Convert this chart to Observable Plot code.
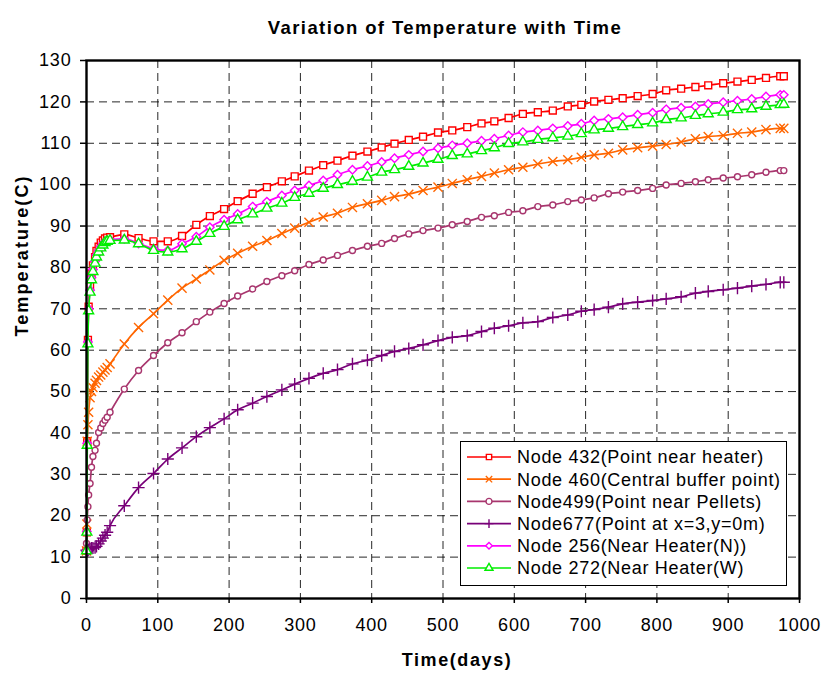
<!DOCTYPE html>
<html>
<head>
<meta charset="utf-8">
<script src="https://cdn.jsdelivr.net/npm/d3@7"></script>
<script src="https://cdn.jsdelivr.net/npm/@observablehq/plot@0.6"></script>
<style>
  html, body { margin: 0; padding: 0; background: #fff; }
  #wrap { position: relative; width: 823px; height: 678px; font-family: "Liberation Sans", Arial, sans-serif; }
  #wrap svg text { letter-spacing: 0.8px; }
  #legend { position: absolute; left: 460px; top: 441px; width: 325px; height: 143px; border: 1px solid #000; background: #fff; }
</style>
</head>
<body>
<div id="wrap"></div>
<script>
// ---- data ----
const titleText = "Variation of Temperature with Time";
const xTitle = "Time(days)";
const yTitle = "Temperature(C)";
const xTicks = [0, 100, 200, 300, 400, 500, 600, 700, 800, 900, 1000];
const yTicks = [0, 10, 20, 30, 40, 50, 60, 70, 80, 90, 100, 110, 120, 130];
const seriesNames = [
  "Node 432(Point near heater)",
  "Node 460(Central buffer point)",
  "Node499(Point near Pellets)",
  "Node677(Point at x=3,y=0m)",
  "Node 256(Near Heater(N))",
  "Node 272(Near Heater(W)"
];
const days = [0, 0.5, 1, 2, 3, 5, 7, 9, 12, 14, 17, 20, 23, 26, 29, 33,
  53, 73, 94, 114, 134, 154, 173, 193,
  212, 233, 253, 274, 292, 312, 332, 352, 373, 394, 414, 432, 452, 472, 493, 513, 534, 554, 572, 592, 612,
  633, 654, 675, 694, 712, 732, 752, 773, 794, 813, 834, 854, 872, 893, 913, 933, 953, 973, 978];
const node432 = [11.5, 16, 38, 62.5, 70.5, 75.5, 78.5, 80.5, 82.5, 84, 85, 86, 86.5, 87, 87.2, 87.3,
  88.0, 87.1, 86.3, 86.3, 87.6, 90.3, 92.4, 94.1,
  96.0, 97.8, 99.4, 100.8, 102.0, 103.4, 104.7, 105.8, 107.0, 108.0, 109.0, 109.9, 110.8, 111.6, 112.6, 113.1, 113.9, 114.8, 115.3, 116.1, 117.1,
  117.5, 117.9, 118.9, 119.3, 120.1, 120.5, 120.9, 121.4, 121.9, 122.8, 123.2, 123.6, 124.0, 124.5, 124.9, 125.3, 125.8, 126.2, 126.2];
const node460 = [11.5, 18, 38, 42, 45, 48.5, 50, 51, 52, 52.7, 53.5, 54, 54.7, 55.2, 55.8, 56.7,
  61.5, 65.5, 68.8, 72.1, 75.0, 77.2, 79.4, 81.7,
  83.4, 85.1, 86.5, 88.2, 89.5, 90.9, 92.2, 93.1, 94.5, 95.4, 96.2, 97.1, 97.7, 98.6, 99.4, 100.3, 101.2, 102.0, 102.8, 103.6, 104.2,
  105.0, 105.6, 106.0, 106.6, 107.2, 107.6, 108.4, 108.9, 109.3, 109.7, 110.3, 111.1, 111.6, 111.9, 112.4, 112.7, 113.3, 113.6, 113.6];
const node499 = [13.3, 16, 19, 22.2, 25, 27.8, 31.7, 34.3, 35.8, 37.5, 40.1, 41.2, 42.3, 43.1, 43.8, 45.0,
  50.6, 55.1, 58.7, 61.8, 64.2, 66.9, 69.2, 71.3,
  73.1, 74.8, 76.6, 78.0, 79.2, 80.7, 81.8, 82.9, 84.1, 85.1, 85.8, 87.0, 88.1, 88.9, 89.5, 90.3, 91.1, 92.1, 92.5, 93.3, 93.7,
  94.7, 95.1, 95.9, 96.3, 96.8, 97.8, 98.2, 98.6, 99.1, 99.9, 100.3, 100.7, 101.2, 101.6, 101.9, 102.4, 103.0, 103.4, 103.4];
const node677 = [11.7, 11.5, 11.5, 11.6, 11.8, 12.0, 12.2, 12.2, 12.3, 12.6, 13.2, 13.9, 14.6, 15.3, 16.0, 17.6,
  22.4, 26.8, 30.2, 33.7, 36.4, 39.1, 41.3, 43.4,
  45.6, 47.2, 48.8, 50.4, 51.8, 53.2, 54.4, 55.3, 56.7, 57.6, 58.7, 59.7, 60.4, 61.3, 62.3, 63.1, 63.5, 64.5, 65.3, 65.9, 66.6,
  66.9, 67.9, 68.5, 69.4, 69.8, 70.4, 71.2, 71.6, 72.0, 72.4, 72.9, 73.8, 74.2, 74.6, 75.0, 75.5, 75.9, 76.4, 76.4];
const node256 = [11.5, 16.2, 37.5, 62, 70, 74.5, 77.5, 79.5, 81.5, 83, 84, 85, 85.7, 86.2, 86.5, 86.7,
  86.9, 85.8, 84.5, 84.1, 85.7, 87.4, 89.7, 91.5,
  92.9, 94.7, 95.9, 97.4, 98.6, 99.8, 101.0, 102.4, 103.6, 104.5, 105.5, 106.4, 107.2, 108.0, 108.8, 109.5, 110.0, 110.6, 111.1, 111.9, 112.7,
  113.1, 113.6, 114.2, 114.7, 115.5, 115.9, 116.3, 116.9, 117.4, 118.2, 118.6, 118.9, 119.5, 119.9, 120.3, 120.7, 121.3, 121.7, 121.7];
const node272 = [11.5, 16, 37, 61.5, 69.5, 74, 77, 79, 81, 82.5, 83.7, 84.7, 85.4, 86, 86.3, 86.5,
  86.6, 85.7, 84.1, 83.7, 84.5, 86.3, 88.2, 89.9,
  91.5, 92.9, 94.3, 95.5, 96.9, 97.9, 99.1, 100.0, 100.8, 101.8, 103.0, 103.6, 104.4, 105.2, 106.1, 107.0, 107.4, 108.2, 108.9, 109.9, 110.3,
  110.9, 111.3, 111.7, 112.3, 113.2, 113.6, 114.0, 114.5, 114.9, 115.7, 116.1, 116.7, 117.1, 117.5, 118.1, 118.3, 118.9, 119.3, 119.4];

// ---- styles ----
const seriesValues = [node432, node460, node499, node677, node256, node272];
const seriesColors = ["#FF0000", "#FF6600", "#A8366E", "#780078", "#FF00FF", "#00EE00"];
const seriesSymbols = ["square", "times", "circle", "plus", "diamond2", "triangle"];
const seriesR = [3.9, 4.2, 3.0, 4.0, 3.8, 3.7];
const font = '"Liberation Sans", Arial, sans-serif';

const marks = [
  Plot.gridX({ticks: xTicks, stroke: "#000", strokeOpacity: 0.85, strokeWidth: 1, strokeDasharray: "8,5"}),
  Plot.gridY({ticks: yTicks, stroke: "#000", strokeOpacity: 0.85, strokeWidth: 1, strokeDasharray: "8,5"})
];
seriesValues.forEach((vals, k) => {
  const rows = days.map((d, i) => ({day: d, temp: vals[i]}));
  marks.push(Plot.line(rows, {x: "day", y: "temp", stroke: seriesColors[k], strokeWidth: 1.7, curve: "monotone-x"}));
  marks.push(Plot.dot(rows, {x: "day", y: "temp", symbol: seriesSymbols[k], stroke: seriesColors[k], fill: "white", r: seriesR[k], strokeWidth: 1.4}));
});
marks.push(
  Plot.frame({stroke: "#000", strokeWidth: 2.4}),
  Plot.axisX({ticks: xTicks, tickFormat: d => String(d), tickSize: 5, tickPadding: 15, fontSize: 18, label: null, strokeWidth: 1.5}),
  Plot.axisY({ticks: yTicks, tickFormat: d => String(d), tickSize: 6, tickPadding: 9, fontSize: 18, label: null, strokeWidth: 1.5}),
  Plot.text([titleText], {text: d => d, frameAnchor: "top", dy: -40, dx: 2, fontSize: 18.5, fontWeight: "bold"}),
  Plot.text([xTitle], {text: d => d, frameAnchor: "bottom", dy: 67, dx: 14, fontSize: 18, fontWeight: "bold"}),
  Plot.text([yTitle], {text: d => d, frameAnchor: "left", dx: -64, dy: 7, rotate: -90, fontSize: 18, fontWeight: "bold"})
);

const chart = Plot.plot({
  width: 823,
  height: 678,
  marginTop: 60,
  marginBottom: 80,
  marginLeft: 86,
  marginRight: 24,
  style: {fontFamily: font, fontSize: "18px", color: "#000", background: "#fff"},
  x: {domain: [0, 1000], label: null},
  y: {domain: [0, 130], label: null},
  marks
});

// letter spacing for titles
d3.select(chart).selectAll("text").each(function() {
  const t = this.textContent;
  if (t === titleText) this.style.letterSpacing = "1.4px";
  else if (t === xTitle) this.style.letterSpacing = "1.6px";
  else if (t === yTitle) this.style.letterSpacing = "2.1px";
});

const wrap = document.getElementById("wrap");
wrap.appendChild(chart);

// ---- legend ----
const legendDiv = document.createElement("div");
legendDiv.id = "legend";
wrap.appendChild(legendDiv);
const symMap = {square: d3.symbolSquare, times: d3.symbolTimes, circle: d3.symbolCircle, plus: d3.symbolPlus, diamond2: d3.symbolDiamond2, triangle: d3.symbolTriangle};
const lsvg = d3.select(legendDiv).append("svg").attr("width", 325).attr("height", 143);
seriesNames.forEach((name, i) => {
  const y = 15 + i * 22.2;
  const g = lsvg.append("g");
  g.append("line").attr("x1", 6).attr("x2", 50).attr("y1", y).attr("y2", y)
    .attr("stroke", seriesColors[i]).attr("stroke-width", 1.7);
  g.append("path").attr("d", d3.symbol(symMap[seriesSymbols[i]], 28)())
    .attr("transform", `translate(28,${y})`)
    .attr("stroke", seriesColors[i]).attr("fill", "white").attr("stroke-width", 1.4);
  g.append("text").attr("x", 56).attr("y", y).attr("dy", "0.36em")
    .attr("font-family", font).attr("font-size", 18)
    .style("letter-spacing", "0.7px").text(name);
});
</script>
</body>
</html>
